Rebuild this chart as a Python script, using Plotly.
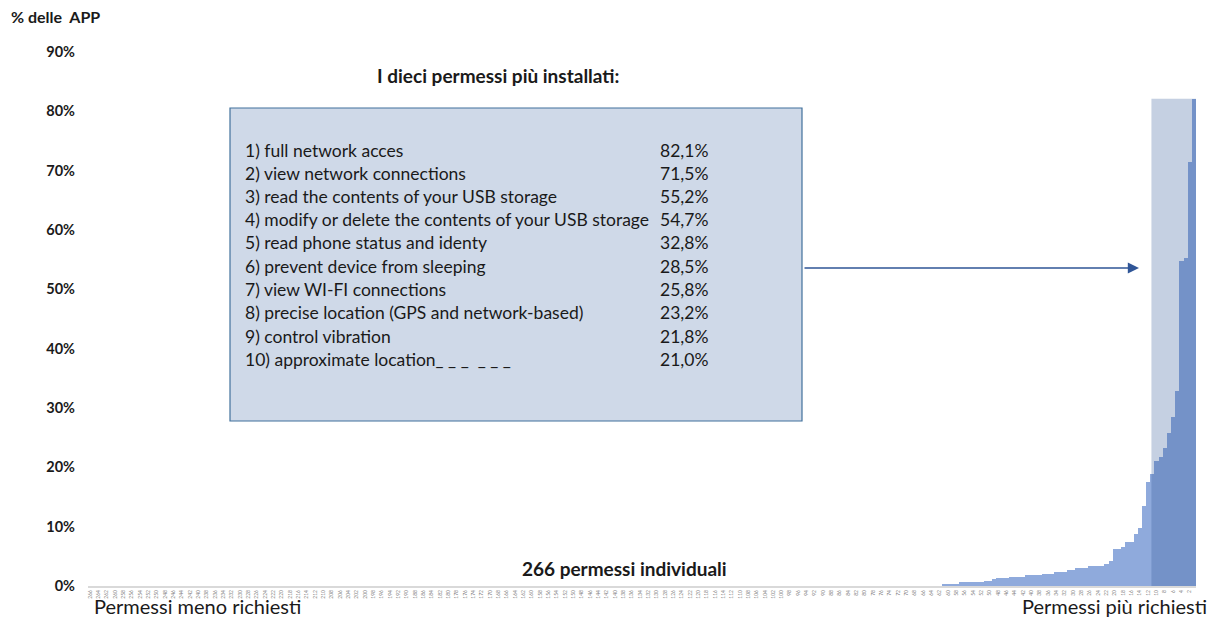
import plotly.graph_objects as go

# Share of apps requesting each permission, ranks 1..61 (most requested first), in %
top_requested = [82.1, 71.5, 55.2, 54.7, 32.8, 28.5, 25.8, 23.2, 21.8, 21.0,
                 18.8, 17.6, 13.4, 9.7, 8.7, 7.5, 7.4, 6.6, 6.2, 6.2,
                 4.2, 3.7, 3.3, 3.3, 3.3, 3.3, 3.0, 3.0, 3.0, 2.7,
                 2.7, 2.3, 2.3, 2.3, 2.0, 2.0, 2.0, 1.85, 1.85, 1.85,
                 1.85, 1.6, 1.6, 1.6, 1.6, 1.3, 1.3, 1.3, 1.1, 0.9,
                 0.9, 0.6, 0.6, 0.6, 0.6, 0.6, 0.6, 0.35, 0.35, 0.35,
                 0.35]
# Remaining permissions (ranks 62..266) are requested by almost no app
least_requested = [0.0] * 205

n_perm = 266
rank_labels = [str(r) for r in range(n_perm, 0, -1)]          # "266" ... "1"
tick_labels = [str(r) for r in range(n_perm, 1, -2)]          # "266", "264", ... "2"
values = [v / 100 for v in least_requested + top_requested[::-1]]

top10_names = [
    "1) full network acces",
    "2) view network connections",
    "3) read the contents of your USB storage",
    "4) modify or delete the contents of your USB storage",
    "5) read phone status and identy",
    "6) prevent device from sleeping",
    "7) view WI-FI connections",
    "8) precise location (GPS and network-based)",
    "9) control vibration",
    "10) approximate location_ _ _  _ _ _",
]
top10_pct = ["82,1%", "71,5%", "55,2%", "54,7%", "32,8%",
             "28,5%", "25,8%", "23,2%", "21,8%", "21,0%"]

FONT = "Lato, Calibri, Carlito, sans-serif"
INK = "#1a1a1a"
W, H = 1213, 621
PL, PR, PT, PB = 88, 1196, 52, 586      # plot area in pixels


def px(xp):
    return (xp - PL) / (PR - PL)


def py(yp):
    return (PB - yp) / (PB - PT)


fig = go.Figure()
fig.add_trace(go.Bar(
    x=rank_labels, y=values,
    marker=dict(color="#8faadc", line=dict(width=0)),
    width=1.0, hoverinfo="skip",
))

# highlight band over the ten most requested permissions
fig.add_shape(type="rect", xref="x", yref="y",
              x0=n_perm - 11.2, x1=n_perm - 0.45, y0=0, y1=top_requested[0] / 100,
              fillcolor="rgba(47,85,151,0.28)", line=dict(width=0), layer="above")

# text box listing the top ten
fig.add_shape(type="rect", xref="paper", yref="paper",
              x0=px(230), x1=px(802), y0=py(421), y1=py(108),
              fillcolor="#cfd9e8", line=dict(color="#41719c", width=1.2), layer="above")

annotations = []
line_y = [150, 173, 196, 219, 242, 266, 289, 312, 336, 359]
for name, pct, yy in zip(top10_names, top10_pct, line_y):
    annotations.append(dict(xref="paper", yref="paper", x=px(243), y=py(yy),
                            text=name, showarrow=False, xanchor="left", yanchor="middle",
                            font=dict(family=FONT, size=17.5, color=INK)))
    annotations.append(dict(xref="paper", yref="paper", x=px(710), y=py(yy),
                            text=pct, showarrow=False, xanchor="right", yanchor="middle",
                            font=dict(family=FONT, size=17.5, color=INK)))

# arrow from the box to the highlighted band
annotations.append(dict(xref="x domain", yref="y domain",
                        x=px(1139), y=py(268), ax=px(803), ay=py(268),
                        axref="x domain", ayref="y domain", text="", showarrow=True,
                        arrowhead=2, arrowsize=1.4, arrowwidth=1.6, arrowcolor="#2f5597"))

annotations += [
    dict(xref="paper", yref="paper", x=px(9), y=py(17), text="<b>% delle&nbsp;&nbsp;APP</b>",
         showarrow=False, xanchor="left", yanchor="middle",
         font=dict(family=FONT, size=16, color=INK)),
    dict(xref="paper", yref="paper", x=px(498), y=py(75),
         text="<b>I dieci permessi più installati:</b>", showarrow=False,
         xanchor="center", yanchor="middle", font=dict(family=FONT, size=19, color=INK)),
    dict(xref="paper", yref="paper", x=px(624), y=py(568),
         text="<b>266 permessi individuali</b>", showarrow=False,
         xanchor="center", yanchor="middle", font=dict(family=FONT, size=19, color=INK)),
    dict(xref="paper", yref="paper", x=px(92), y=py(606),
         text="Permessi meno richiesti", showarrow=False,
         xanchor="left", yanchor="middle", font=dict(family=FONT, size=20, color=INK)),
    dict(xref="paper", yref="paper", x=px(1209), y=py(606),
         text="Permessi più richiesti", showarrow=False,
         xanchor="right", yanchor="middle", font=dict(family=FONT, size=20, color=INK)),
]

fig.update_layout(
    width=W, height=H,
    margin=dict(l=PL, r=W - PR, t=PT, b=H - PB, pad=0),
    paper_bgcolor="white", plot_bgcolor="white",
    bargap=0, showlegend=False,
    annotations=annotations,
    xaxis=dict(type="category", range=[-0.5, n_perm - 0.5],
               tickmode="array", tickvals=tick_labels, ticktext=tick_labels,
               tickangle=-90, tickfont=dict(family=FONT, size=5, color="#7f7f7f"),
               showline=True, linecolor="#d9d9d9", linewidth=2,
               showgrid=False, zeroline=False, ticks=""),
    yaxis=dict(range=[0, 0.9], dtick=0.1, tickformat=".0%",
               tickfont=dict(family=FONT, size=14.5, color=INK, weight="bold"),
               ticklabelstandoff=12,
               showgrid=False, zeroline=False, showline=False, ticks=""),
)

fig.write_html("out.html")
